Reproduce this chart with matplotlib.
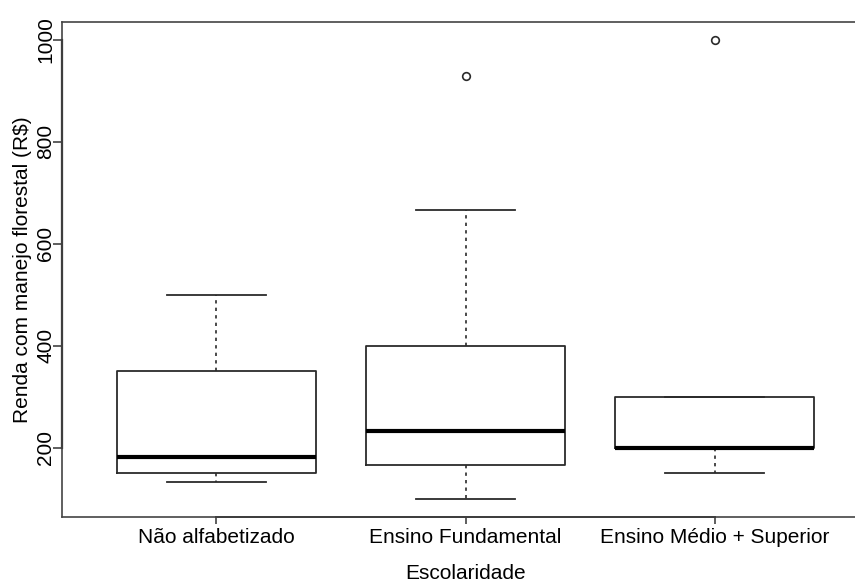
import matplotlib
matplotlib.use("Agg")
import matplotlib.pyplot as plt

# values (R$)
categories = ["Não alfabetizado", "Ensino Fundamental", "Ensino Médio + Superior"]
whisker_low = [133, 100, 150]
q1 = [150, 166, 200]
median = [182, 233, 200]
q3 = [350, 400, 300]
whisker_high = [500, 666, 300]
outliers = [[], [930], [1000]]

yticks = [200, 400, 600, 800, 1000]

plt.rcParams['font.family'] = ['Liberation Sans', 'DejaVu Sans']

fig = plt.figure(figsize=(8.55, 5.83), dpi=100)
ax = fig.add_axes([62 / 855, 1 - 517.3 / 583, (869 - 62) / 855, (517.3 - 21.5) / 583])

stats = []
for i in range(len(categories)):
    stats.append({
        "whislo": whisker_low[i], "q1": q1[i], "med": median[i],
        "q3": q3[i], "whishi": whisker_high[i], "fliers": outliers[i],
    })

line_col = "#2b2b2b"
pos = list(range(1, len(categories) + 1))
ax.bxp(stats, positions=pos, widths=0.8, showfliers=True,
       boxprops=dict(color=line_col, linewidth=1.3),
       whiskerprops=dict(color=line_col, linewidth=1.2, linestyle=(0, (2, 2.5))),
       capprops=dict(color=line_col, linewidth=1.3),
       capwidths=0.4,
       medianprops=dict(color="black", linewidth=3),
       flierprops=dict(marker="o", markerfacecolor="white", markeredgecolor=line_col,
                       markersize=5.5, markeredgewidth=1.2))

ax.set_xlim(0.38, 3.62)
ax.set_ylim(64, 1036)

for s in ax.spines.values():
    s.set_color("#444444")
    s.set_linewidth(1.2)

# R style axis lines running from first to last tick
ax.plot([0.38, 0.38], [yticks[0], yticks[-1]], color="#222222", lw=1.6, clip_on=False)
ax.plot([pos[0], pos[-1]], [64, 64], color="#222222", lw=1.4, clip_on=False)

ax.set_yticks(yticks)
ax.set_yticklabels([str(v) for v in yticks], rotation=90, va="center", fontsize=15)
ax.set_xticks(pos)
ax.set_xticklabels(categories, fontsize=15)
ax.tick_params(axis="y", length=6.5, width=1.1, pad=-1.5, color="#333333")
ax.tick_params(axis="x", length=5, width=1.1, pad=3, color="#333333")

ax.set_ylabel("Renda com manejo florestal (R$)", fontsize=15, labelpad=3)
ax.set_xlabel("Escolaridade", fontsize=15, labelpad=12)

fig.savefig("out.png", dpi=100)
